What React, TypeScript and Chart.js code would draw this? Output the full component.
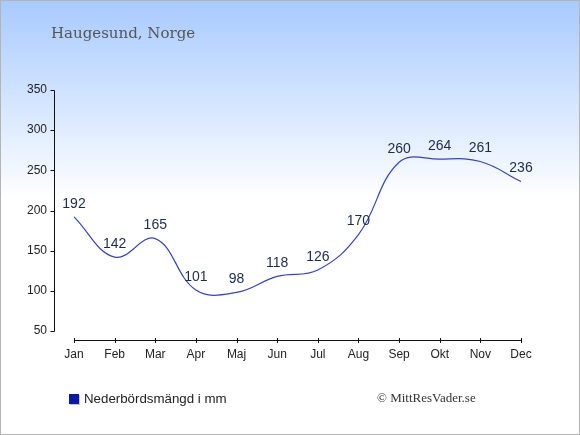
import { useEffect, useRef } from "react";
import { Chart, registerables } from "chart.js";

Chart.register(...registerables);

const months = ["Jan", "Feb", "Mar", "Apr", "Maj", "Jun", "Jul", "Aug", "Sep", "Okt", "Nov", "Dec"];
const precipitation = [192, 142, 165, 101, 98, 118, 126, 170, 260, 264, 261, 236];
const yMin = 50;
const yMax = 350;
const yStep = 50;
const chartTitle = "Haugesund, Norge";
const seriesLabel = "Nederbördsmängd i mm";
const credit = "© MittResVader.se";

const sans = "'Liberation Sans', Arial, sans-serif";

// axis lines sit apart from the plot area, so they are drawn here from the scales
const decorations = {
  id: "decorations",
  afterDatasetsDraw(chart: Chart) {
    const { ctx } = chart;
    const meta = chart.getDatasetMeta(0);
    ctx.save();
    ctx.font = `14px ${sans}`;
    ctx.fillStyle = "#1c2b4a";
    ctx.textAlign = "center";
    ctx.textBaseline = "middle";
    meta.data.forEach((pt: any, i: number) => {
      ctx.fillText(String(precipitation[i]), pt.x, pt.y - 13);
    });
    ctx.restore();
  },
  afterDraw(chart: Chart) {
    const { ctx, chartArea } = chart;
    const xs: any = chart.scales.x;
    const ys: any = chart.scales.y;
    ctx.save();
    ctx.strokeStyle = "#111";
    ctx.lineWidth = 1;

    const ax = Math.round(chartArea.left) - 20 + 0.5;
    const top = Math.round(ys.getPixelForValue(yMax)) + 0.5;
    const bottom = Math.round(ys.getPixelForValue(yMin)) + 0.5;
    ctx.beginPath();
    ctx.moveTo(ax, top);
    ctx.lineTo(ax, bottom);
    ys.ticks.forEach((t: any) => {
      const py = Math.round(ys.getPixelForValue(t.value)) + 0.5;
      ctx.moveTo(ax - 4, py);
      ctx.lineTo(ax, py);
    });
    ctx.stroke();

    const ay = Math.round(chartArea.bottom) + 9.5;
    const left = Math.round(xs.getPixelForValue(0)) + 0.5;
    const right = Math.round(xs.getPixelForValue(months.length - 1)) + 0.5;
    ctx.beginPath();
    ctx.moveTo(left, ay);
    ctx.lineTo(right, ay);
    months.forEach((_, i) => {
      const px = Math.round(xs.getPixelForValue(i)) + 0.5;
      ctx.moveTo(px, ay - 2.5);
      ctx.lineTo(px, ay + 2.5);
    });
    ctx.stroke();

    // title
    ctx.font = "15px 'DejaVu Serif', serif";
    ctx.fillStyle = "#555";
    ctx.textAlign = "left";
    ctx.textBaseline = "alphabetic";
    ctx.fillText(chartTitle, 51, 38);

    // legend
    ctx.fillStyle = "#c4c4c4";
    ctx.fillRect(70, 395, 10, 10);
    ctx.fillStyle = "#0a18aa";
    ctx.fillRect(69, 394, 10, 10);
    ctx.font = `13.3px ${sans}`;
    ctx.fillStyle = "#222";
    ctx.fillText(seriesLabel, 84, 403);

    // credit
    ctx.font = "13px 'Liberation Serif', serif";
    ctx.fillStyle = "#333";
    ctx.fillText(credit, 377, 402);
    ctx.restore();
  },
};

const App = () => {
  const canvasRef = useRef<HTMLCanvasElement>(null);
  const chartRef = useRef<Chart | null>(null);

  useEffect(() => {
    document.body.style.margin = "0";
    if (!canvasRef.current) return;
    if (chartRef.current) chartRef.current.destroy();

    chartRef.current = new Chart(canvasRef.current, {
      type: "line",
      data: {
        labels: months,
        datasets: [
          {
            label: seriesLabel,
            data: precipitation,
            borderColor: "#3642c4",
            borderWidth: 1.2,
            tension: 0.4,
            pointRadius: 0,
            fill: false,
          },
        ],
      },
      options: {
        responsive: false,
        animation: false,
        layout: { padding: { top: 90, right: 59, bottom: 44, left: 0 } },
        plugins: {
          legend: { display: false },
          tooltip: { enabled: false },
          title: { display: false },
        },
        scales: {
          x: {
            type: "category",
            offset: false,
            grid: { display: false, drawTicks: false },
            border: { display: false },
            ticks: {
              padding: 16,
              color: "#222",
              font: { family: sans, size: 12 },
              maxRotation: 0,
              autoSkip: false,
            },
            afterFit: (s: any) => {
              s.height = 60;
            },
          },
          y: {
            min: yMin,
            max: yMax,
            grid: { display: false, drawTicks: false },
            border: { display: false },
            ticks: {
              stepSize: yStep,
              padding: 27,
              color: "#222",
              font: { family: sans, size: 12 },
            },
            afterFit: (s: any) => {
              s.width = 74;
            },
          },
        },
      },
      plugins: [decorations],
    });

    return () => {
      if (chartRef.current) {
        chartRef.current.destroy();
        chartRef.current = null;
      }
    };
  }, []);

  return (
    <div
      style={{
        position: "relative",
        width: 580,
        height: 435,
        background: "linear-gradient(to bottom, #a7caff 0px, #ffffff 200px)",
      }}
    >
      <canvas ref={canvasRef} width={580} height={435} style={{ position: "absolute", left: 0, top: 0 }} />
      <div
        style={{
          position: "absolute",
          inset: 0,
          border: "1px solid #b4b4b4",
          boxSizing: "border-box",
          pointerEvents: "none",
        }}
      />
    </div>
  );
};

export default App;
